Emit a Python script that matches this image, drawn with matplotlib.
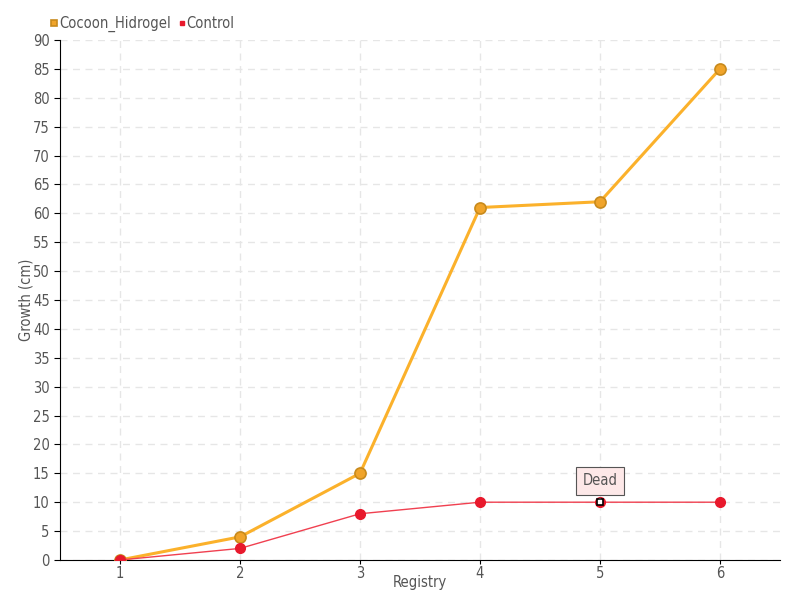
import matplotlib
matplotlib.use('Agg')
import matplotlib.pyplot as plt

registry = [1, 2, 3, 4, 5, 6]
cocoon = [0, 4, 15, 61, 62, 85]
control = [0, 2, 8, 10, 10, 10]
dead_index = 4

plt.rcParams['font.family'] = ['DejaVu Sans']
plt.rcParams['font.stretch'] = 'condensed'
text_color = '#555555'

fig = plt.figure(figsize=(8, 6), dpi=100)
ax = fig.add_axes([0.075, 0.0667, 0.9, 0.8667])

ax.plot(registry, cocoon, color='#fbb12b', lw=2.2, marker='o', ms=8,
        mfc='#f0a42a', mec='#c88a1c', mew=1.2, label='Cocoon_Hidrogel', zorder=3)
ax.plot(registry, control, color='#f04050', lw=1, marker='o', ms=7,
        mfc='#e8192c', mec='#e8192c', label='Control', zorder=4)
ax.plot(registry[dead_index], control[dead_index], marker='s', ms=5,
        mfc='white', mec='black', mew=1.2, zorder=5)

ax.annotate('Dead', xy=(registry[dead_index], control[dead_index]),
            xytext=(0, 15.5), textcoords='offset points', ha='center', va='center',
            fontsize=10.5, color=text_color,
            bbox=dict(boxstyle='square,pad=0.45', fc='#fde8e8', ec='#555555', lw=0.8),
            arrowprops=dict(arrowstyle='-', color='#555555', lw=0.8), zorder=6)

ax.set_xlim(0.5, 6.5)
ax.set_ylim(0, 90)
ax.set_xticks(registry)
ax.set_yticks(range(0, 91, 5))
ax.grid(True, color='#e6e6e6', linestyle=(0, (5, 4)), lw=1)
ax.set_axisbelow(True)
for s in ['top', 'right']:
    ax.spines[s].set_visible(False)
ax.tick_params(colors=text_color, labelsize=10.5, length=4)
ax.tick_params(axis='both', color='black')
ax.tick_params(axis='x', pad=1, length=3)
ax.set_xlabel('Registry', color=text_color, fontsize=10.5)
ax.set_ylabel('Growth (cm)', color=text_color, fontsize=10.5)
ax.xaxis.set_label_coords(0.5, -0.028)
ax.yaxis.set_label_coords(-0.037, 0.5)

ax.legend(loc='lower left', bbox_to_anchor=(-0.03, 0.99), ncol=2, frameon=False,
          handlelength=0.4, handletextpad=0.15, columnspacing=0.5, fontsize=10.5,
          labelcolor=text_color, markerscale=0.5)
leg = ax.get_legend()
for h in leg.legend_handles:
    h.set_linestyle('None')
    h.set_marker('s')

fig.savefig('out.png', dpi=100)
